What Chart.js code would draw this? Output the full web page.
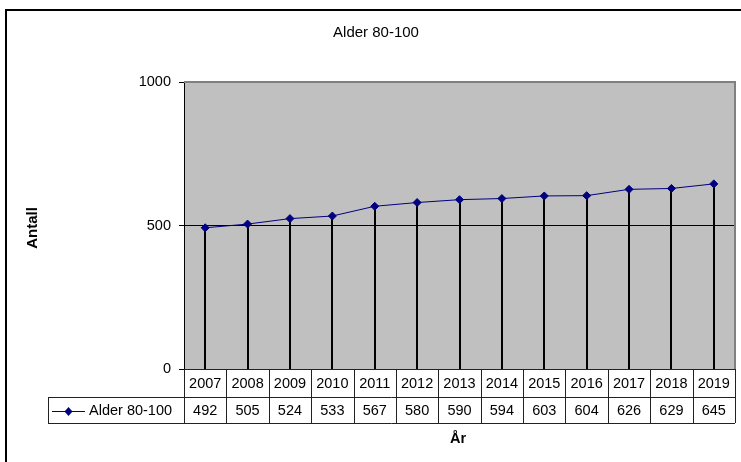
<!DOCTYPE html>
<html>
<head>
<meta charset="utf-8">
<script src="https://cdn.jsdelivr.net/npm/chart.js@4/dist/chart.umd.min.js"></script>
<style>
  body { margin: 0; background: #fff; }
  #wrap { width: 741px; height: 462px; }
</style>
</head>
<body>
<div id="wrap"><canvas id="myChart" width="741" height="462"></canvas></div>
<script>
  // data
  const years = ["2007", "2008", "2009", "2010", "2011", "2012", "2013", "2014", "2015", "2016", "2017", "2018", "2019"];
  const antall = [492, 505, 524, 533, 567, 580, 590, 594, 603, 604, 626, 629, 645];
  const seriesName = "Alder 80-100";
  const yTicks = [0, 500, 1000];

  const navy = "#000080";
  const font = "Liberation Sans, Arial, sans-serif";

  // background, frame, drop lines and the data table underneath
  const excelLook = {
    id: "excelLook",
    beforeDraw(chart) {
      const ctx = chart.ctx;
      const a = chart.chartArea;
      ctx.save();
      ctx.fillStyle = "#fff";
      ctx.fillRect(0, 0, chart.width, chart.height);
      // outer frame (runs off the right and bottom edges)
      ctx.strokeStyle = "#000";
      ctx.lineWidth = 2;
      ctx.beginPath();
      ctx.moveTo(6, chart.height + 2);
      ctx.lineTo(6, 10);
      ctx.lineTo(chart.width + 2, 10);
      ctx.stroke();
      // plot area
      ctx.fillStyle = "#c0c0c0";
      ctx.fillRect(a.left, a.top, a.right - a.left, a.bottom - a.top);
      // title
      ctx.fillStyle = "#000";
      ctx.font = "15px " + font;
      ctx.textAlign = "center";
      ctx.textBaseline = "middle";
      ctx.fillText(seriesName, 376, 33);
      // y title
      ctx.font = "bold 15px " + font;
      ctx.translate(33, 228);
      ctx.rotate(-Math.PI / 2);
      ctx.fillText("Antall", 0, 0);
      ctx.restore();
    },
    beforeDatasetsDraw(chart) {
      const ctx = chart.ctx;
      const a = chart.chartArea;
      ctx.save();
      // gray top/right border
      ctx.strokeStyle = "#808080";
      ctx.lineWidth = 2;
      ctx.beginPath();
      ctx.moveTo(a.left, a.top);
      ctx.lineTo(a.right, a.top);
      ctx.lineTo(a.right, a.bottom);
      ctx.stroke();
      // drop lines
      ctx.strokeStyle = "#000";
      ctx.lineWidth = 2;
      chart.getDatasetMeta(0).data.forEach(p => {
        ctx.beginPath();
        ctx.moveTo(Math.round(p.x), p.y);
        ctx.lineTo(Math.round(p.x), a.bottom);
        ctx.stroke();
      });
      ctx.restore();
    },
    afterDraw(chart) {
      const ctx = chart.ctx;
      const a = chart.chartArea;
      const x = chart.scales.x;
      const rowTop = a.bottom, rowMid = a.bottom + 28, rowBot = a.bottom + 54;
      const half = (x.getPixelForValue(1) - x.getPixelForValue(0)) / 2;
      ctx.save();
      ctx.strokeStyle = "#222";
      ctx.lineWidth = 1;
      ctx.beginPath();
      // horizontal lines
      ctx.moveTo(a.left, rowTop + 0.5); ctx.lineTo(a.right, rowTop + 0.5);
      ctx.moveTo(48, rowMid + 0.5); ctx.lineTo(a.right, rowMid + 0.5);
      ctx.moveTo(48, rowBot + 0.5); ctx.lineTo(a.right, rowBot + 0.5);
      // vertical lines
      for (let i = 0; i <= years.length; i++) {
        const px = Math.round(x.getPixelForValue(i) - half) + 0.5;
        ctx.moveTo(px, rowTop); ctx.lineTo(px, rowBot);
      }
      ctx.moveTo(48.5, rowMid); ctx.lineTo(48.5, rowBot + 0.5);
      ctx.stroke();
      // values
      ctx.fillStyle = "#000";
      ctx.font = "14.5px " + font;
      ctx.textAlign = "center";
      ctx.textBaseline = "middle";
      const vy = (rowMid + rowBot) / 2 + 1;
      antall.forEach((v, i) => ctx.fillText(String(v), x.getPixelForValue(i), vy));
      // legend key
      ctx.strokeStyle = navy;
      ctx.beginPath();
      ctx.moveTo(52, vy + 0.5); ctx.lineTo(85, vy + 0.5);
      ctx.stroke();
      ctx.fillStyle = navy;
      ctx.beginPath();
      ctx.moveTo(68.5, vy - 4); ctx.lineTo(72.5, vy + 0.5); ctx.lineTo(68.5, vy + 5); ctx.lineTo(64.5, vy + 0.5);
      ctx.closePath();
      ctx.fill();
      ctx.fillStyle = "#000";
      ctx.textAlign = "left";
      ctx.fillText(seriesName, 89, vy);
      // x title
      ctx.font = "bold 14.5px " + font;
      ctx.textAlign = "center";
      ctx.fillText("År", 458, 439);
      ctx.restore();
    }
  };

  new Chart(document.getElementById("myChart"), {
    type: "line",
    data: {
      labels: years,
      datasets: [{
        label: seriesName,
        data: antall,
        borderColor: navy,
        borderWidth: 1,
        backgroundColor: navy,
        pointStyle: "rectRot",
        pointRadius: 4,
        pointBackgroundColor: navy,
        pointBorderColor: navy,
        tension: 0
      }]
    },
    options: {
      responsive: false,
      animation: false,
      layout: { padding: { left: 0, top: 82, right: 6, bottom: 0 } },
      plugins: {
        legend: { display: false },
        title: { display: false },
        tooltip: { enabled: false }
      },
      scales: {
        x: {
          offset: true,
          grid: { display: false, drawTicks: false },
          border: { color: "#000", width: 1 },
          ticks: { color: "#000", font: { family: font, size: 14.5 }, padding: 6, maxRotation: 0, autoSkip: false },
          afterFit: s => { s.height = 93; }
        },
        y: {
          min: 0,
          max: 1000,
          afterBuildTicks: s => { s.ticks = yTicks.map(v => ({ value: v })); },
          grid: {
            color: c => (c.tick && c.tick.value === 500) ? "#000" : "rgba(0,0,0,0)",
            tickColor: "#000",
            tickLength: 5
          },
          border: { color: "#000", width: 1 },
          ticks: { color: "#000", font: { family: font, size: 14.5 }, padding: 8, callback: v => String(v) },
          afterFit: s => { s.width = 184; }
        }
      }
    },
    plugins: [excelLook]
  });
</script>
</body>
</html>
